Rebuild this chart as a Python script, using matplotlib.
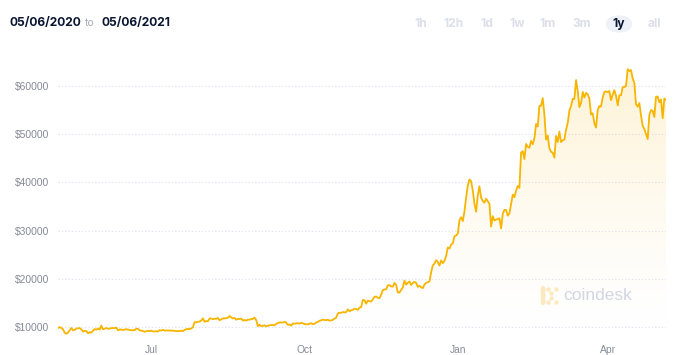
import matplotlib
matplotlib.use("Agg")
import matplotlib.pyplot as plt
import matplotlib.dates as mdates
import numpy as np
import pandas as pd
from matplotlib.colors import to_rgb
from matplotlib.patches import FancyBboxPatch

# daily BTC price (USD), 05/06/2020 .. 05/06/2021
may_2020 = [9800, 9970, 9800, 9540, 8800, 8600, 8810, 9310, 9790, 9310, 9380, 9670, 9730,
            9780, 9510, 9060, 9170, 9180, 8720, 8900, 8840, 9200, 9580, 9430, 9700, 9460]
jun_2020 = [10300, 9520, 9650, 9790, 9620, 9670, 9760, 9790, 9770, 9880, 9320, 9480, 9470,
            9380, 9450, 9540, 9460, 9390, 9310, 9360, 9300, 9650, 9620, 9300, 9250, 9160,
            9000, 9120, 9190, 9140]
jul_2020 = [9230, 9090, 9070, 9130, 9070, 9340, 9250, 9430, 9240, 9290, 9240, 9300, 9240,
            9250, 9200, 9130, 9150, 9170, 9210, 9160, 9390, 9540, 9610, 9550, 9710, 9930,
            11030, 10940, 11100, 11110, 11350]
aug_2020 = [11800, 11070, 11230, 11200, 11750, 11770, 11600, 11750, 11680, 11880, 11400,
            11580, 11780, 11770, 11860, 11910, 12290, 11970, 11760, 11870, 11520, 11680,
            11650, 11750, 11330, 11460, 11320, 11540, 11500, 11680, 11680]
sep_2020 = [11970, 11420, 10170, 10480, 10170, 10240, 10360, 10130, 10240, 10360, 10400,
            10440, 10330, 10680, 10790, 10950, 10940, 10930, 11080, 10920, 10420, 10540,
            10250, 10740, 10690, 10730, 10770, 10710, 10840, 10780]
oct_2020 = [10620, 10570, 10550, 10670, 10790, 10600, 10670, 10920, 11060, 11300, 11380,
            11550, 11430, 11430, 11500, 11320, 11360, 11480, 11740, 11920, 12820, 12970,
            12930, 13110, 13030, 13070, 13650, 13270, 13460, 13560, 13800]
nov_2020 = [13740, 13550, 14030, 14130, 15590, 15570, 14830, 15480, 15330, 15300, 15700,
            16280, 16320, 16070, 15960, 16720, 17650, 17780, 17820, 18660, 18680, 18410,
            18370, 19160, 18720, 17150, 17140, 17720, 18180, 19630]
dec_2020 = [18800, 19200, 19450, 18700, 19150, 19360, 19170, 18320, 18550, 18260, 18060,
            18800, 19170, 19270, 19440, 21310, 22800, 23140, 23870, 23480, 22750, 23820,
            23240, 23730, 24710, 26490, 26280, 27080, 27360, 28840, 29000]
jan_2021 = [29370, 32130, 32780, 31970, 33990, 36820, 39370, 40600, 40250, 38350, 35570,
            33920, 37320, 39190, 36830, 36180, 35800, 36630, 36070, 35550, 30830, 33010,
            32100, 32290, 32370, 32570, 30430, 33470, 34320, 34290, 33110]
feb_2021 = [33540, 35510, 37470, 36930, 38290, 39260, 38900, 46200, 46480, 44840, 47970,
            47410, 47190, 48600, 47930, 49130, 52120, 51610, 55890, 55920, 57490, 54100,
            48880, 49710, 47090, 46340, 46190, 45140]
mar_2021 = [49630, 48380, 50540, 48370, 48760, 48880, 50970, 52380, 54880, 55860, 57330,
            57330, 61240, 59000, 55640, 56460, 58770, 57620, 58590, 58280, 57400, 54090,
            54340, 52300, 51380, 55030, 55840, 55760, 57630, 58740, 58920]
apr_2021 = [58740, 58960, 57060, 58200, 59130, 57990, 56000, 58060, 58100, 59770, 59790,
            60000, 63500, 63110, 63310, 61570, 60680, 56220, 55720, 56470, 53900, 51760,
            51090, 50050, 49000, 54020, 55030, 54830, 53560, 57750]
may_2021 = [57830, 56630, 57200, 53330, 57420, 57100]

y_ticks = [10000, 20000, 30000, 40000, 50000, 60000]
month_ticks = ["2020-07-01", "2020-10-01", "2021-01-01", "2021-04-01"]
month_labels = ["Jul", "Oct", "Jan", "Apr"]
ranges = ["1h", "12h", "1d", "1w", "1m", "3m", "1y", "all"]

LINE = "#f7b500"
GRID = "#e2e4f2"
TICK = "#868a97"
NAVY = "#0b1633"

prices = np.array(may_2020 + jun_2020 + jul_2020 + aug_2020 + sep_2020 + oct_2020 +
                  nov_2020 + dec_2020 + jan_2021 + feb_2021 + mar_2021 + apr_2021 + may_2021)
dates = pd.date_range("2020-05-06", periods=len(prices), freq="D")

W, H = 682, 355
fig = plt.figure(figsize=(W / 100, H / 100), dpi=100)
ax = fig.add_axes([58 / W, 1 - 335 / H, (666 - 58) / W, (335 - 60) / H])

x = mdates.date2num(dates)
ax.set_xlim(x[0], x[-1])
ax.set_ylim(8340, 65400)

# gradient fill under the line
poly = ax.fill_between(x, prices, 0, color="none", lw=0)
r, g, b = to_rgb(LINE)
grad = np.zeros((256, 1, 4))
grad[:, 0, 0], grad[:, 0, 1], grad[:, 0, 2] = r, g, b
grad[:, 0, 3] = np.linspace(0.0, 0.17, 256) ** 1.3 / 0.17 ** 0.3
img = ax.imshow(grad, aspect="auto", origin="lower",
                extent=[x[0], x[-1], 8340, 64000], zorder=1)
img.set_clip_path(poly.get_paths()[0], transform=ax.transData)

ax.plot(x, prices, color=LINE, lw=1.3, zorder=3)

for s in ax.spines.values():
    s.set_visible(False)
ax.set_yticks(y_ticks)
ax.set_yticklabels([f"${v}" for v in y_ticks])
ax.set_xticks(mdates.date2num(pd.to_datetime(month_ticks)))
ax.set_xticklabels(month_labels)
ax.tick_params(length=0, colors=TICK, labelsize=7.4)
ax.tick_params(axis="y", pad=6)
ax.tick_params(axis="x", pad=7)
for lab in ax.get_xticklabels() + ax.get_yticklabels():
    lab.set_fontfamily("Liberation Sans")
ax.grid(axis="y", color=GRID, ls=(0, (1.2, 1.8)), lw=0.8, zorder=0)
ax.set_axisbelow(True)

# header: date range
fig.text(10 / W, 1 - 23 / H, "05/06/2020", fontsize=8.7, fontweight="bold",
         color=NAVY, family="Inter", va="center")
fig.text(85 / W, 1 - 23 / H, "to", fontsize=7.5, color="#a9adb9", family="Inter", va="center")
fig.text(101 / W, 1 - 23 / H, "05/06/2021", fontsize=8.7, fontweight="bold",
         color=NAVY, family="Inter", va="center")

# range buttons
btn_x = [421, 454, 487, 517, 548, 582, 619, 654]
pill = FancyBboxPatch((606 / W, 1 - 33 / H), 26 / W, 18 / H,
                      boxstyle="round,pad=0,rounding_size=0.025",
                      transform=fig.transFigure, fc="#eef1f8", ec="none")
fig.add_artist(pill)
for lbl, bx in zip(ranges, btn_x):
    fig.text(bx / W, 1 - 24 / H, lbl, fontsize=8.7, fontweight="bold", family="Inter",
             color=NAVY if lbl == "1y" else "#dcdfe9", ha="center", va="center")

# watermark
fig.text(563 / W, 1 - 296 / H, "coindesk", fontsize=12.5, color="#d3d6e0",
         family="Liberation Sans", va="center")
icon_x = [543, 543, 543, 548, 556, 548, 556, 551, 551]
icon_y = [289, 295, 301, 289, 289, 302, 302, 293, 298]
fig.add_artist(plt.Line2D([543 / W] * 2, [1 - 288 / H, 1 - 303 / H], color="#fbeac0",
                          lw=3.2, solid_capstyle="round", transform=fig.transFigure))
for ix, iy in zip(icon_x, icon_y):
    fig.add_artist(plt.Line2D([ix / W], [1 - iy / H], marker="o", ms=3.2, color="#fbeac0",
                              mec="none", transform=fig.transFigure))

fig.savefig("out.png", dpi=100)
